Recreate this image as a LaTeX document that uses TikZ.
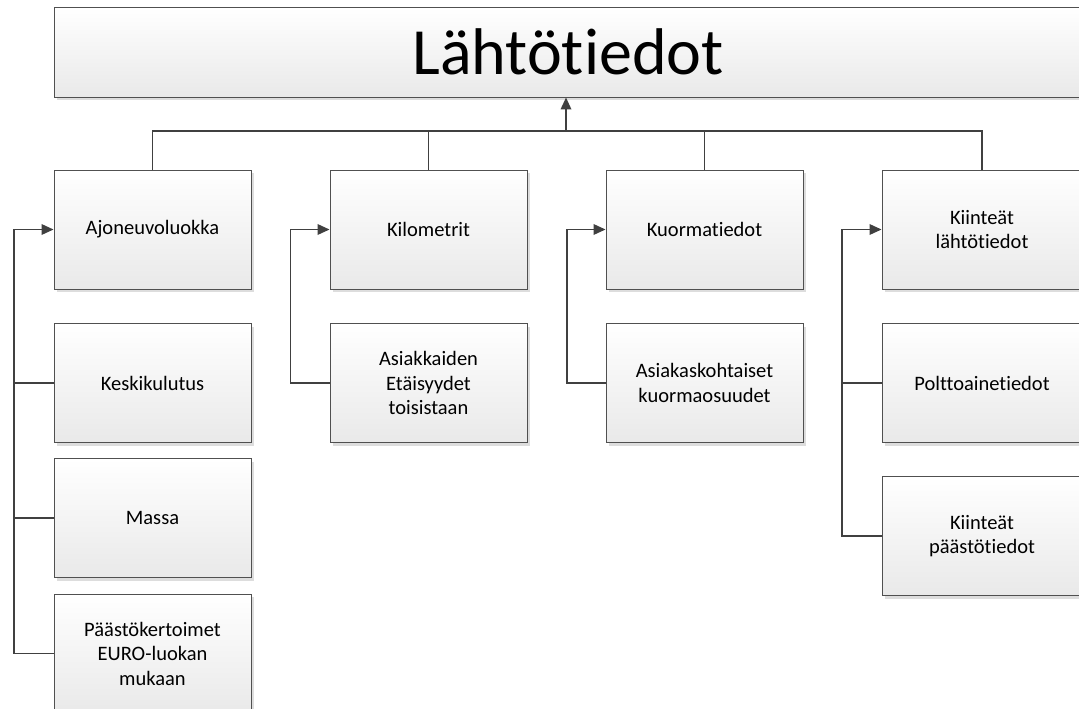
\documentclass[tikz,border=0pt]{standalone}
\usepackage{fontspec}
\setmainfont{Carlito}[RawFeature={-liga;-clig;-dlig}]
\usetikzlibrary{arrows.meta,shadows}
\definecolor{linec}{HTML}{404040}
\definecolor{boxline}{HTML}{505050}
\definecolor{shadec}{HTML}{E9E9E9}
\definecolor{shadowc}{HTML}{DDDDDD}
\begin{document}
\begin{tikzpicture}[x=1pt,y=-1pt,
  box/.style={draw=boxline, line width=0.9pt, top color=white, bottom color=shadec,
    minimum width=197pt, minimum height=119pt, inner sep=0pt, align=center,
    font=\fontsize{20.5}{24.5}\selectfont,
    drop shadow={shadow xshift=3pt, shadow yshift=-3pt, fill=shadowc, opacity=1}},
  conn/.style={draw=linec, line width=1.8pt},
  arr/.style={conn, -{Triangle[length=12pt,width=10.5pt]}}]
\useasboundingbox (0,0) rectangle (1079,709);
\clip (0,0) rectangle (1079,709);
\fill[white] (0,0) rectangle (1079,709);

\node[box, minimum width=1028pt, minimum height=90pt, font=\fontsize{66}{70}\selectfont] (top) at (568,52) {Lähtötiedot};

\node[box] (a1) at (152.5,229.5) {Ajoneuvoluokka};
\node[box] (a2) at (152.5,383) {Keskikulutus};
\node[box] (a3) at (152.5,518) {Massa};
\node[box] (a4) at (152.5,653.5) {Päästökertoimet\\EURO-luokan\\mukaan};

\node[box] (b1) at (428.5,229.5) {Kilometrit};
\node[box] (b2) at (428.5,383) {Asiakkaiden\\Etäisyydet\\toisistaan};

\node[box] (c1) at (704.5,229.5) {Kuormatiedot};
\node[box] (c2) at (704.5,383) {Asiakaskohtaiset\\kuormaosuudet};

\node[box, minimum width=200pt] (d1) at (982,229.5) {Kiinteät\\lähtötiedot};
\node[box, minimum width=200pt] (d2) at (982,383) {Polttoainetiedot};
\node[box, minimum width=200pt] (d3) at (982,536) {Kiinteät\\päästötiedot};

\coordinate (bus) at (566,131);
\coordinate (la) at (14,0);
\coordinate (lb) at (290.5,0);
\coordinate (lc) at (567,0);
\coordinate (ld) at (842,0);

% bus to title
\draw[conn] (a1.north) -- (a1.north |- bus) -- (d1.north |- bus) -- (d1.north);
\draw[conn] (b1.north) -- (b1.north |- bus);
\draw[conn] (c1.north) -- (c1.north |- bus);
\draw[arr] (bus) -- (bus |- top.south);

% column 1
\draw[arr] (a4.west) -- (la |- a4.west) -- (la |- a1.west) -- (a1.west);
\draw[conn] (a2.west) -- (la |- a2.west);
\draw[conn] (a3.west) -- (la |- a3.west);

% column 2
\draw[arr] (b2.west) -- (lb |- b2.west) -- (lb |- b1.west) -- (b1.west);

% column 3
\draw[arr] (c2.west) -- (lc |- c2.west) -- (lc |- c1.west) -- (c1.west);

% column 4
\draw[arr] (d3.west) -- (ld |- d3.west) -- (ld |- d1.west) -- (d1.west);
\draw[conn] (d2.west) -- (ld |- d2.west);
\end{tikzpicture}
\end{document}
